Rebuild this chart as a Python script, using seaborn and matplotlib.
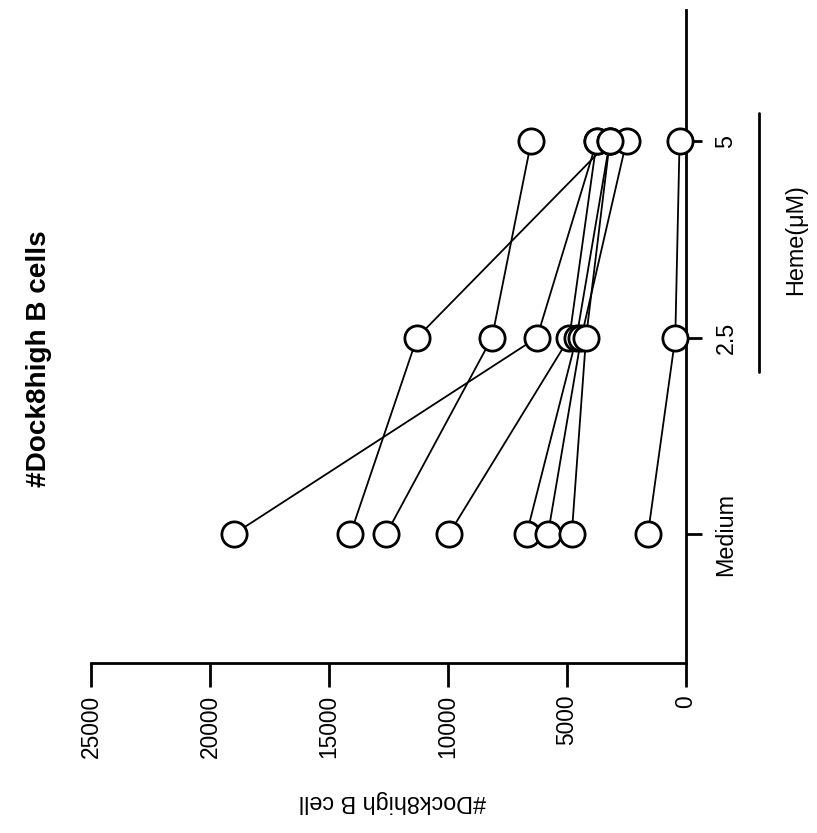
import matplotlib
matplotlib.use('Agg')
import matplotlib.pyplot as plt
import matplotlib.transforms as mtransforms
from matplotlib import font_manager
import numpy as np
import pandas as pd
import seaborn as sns

# ---- data ----
categories = ['Medium', '2.5', '5']
value_ticks = [0, 5000, 10000, 15000, 20000, 25000]
subj_a = [19000, 6260, 3750]
subj_b = [14100, 11300, 3200]
subj_c = [12600, 8150, 6500]
subj_d = [9960, 4900, 3750]
subj_e = [6700, 4600, 3200]
subj_f = [5800, 4400, 2500]
subj_g = [4800, 4200, 3200]
subj_h = [1600, 450, 270]
series = {'A': subj_a, 'B': subj_b, 'C': subj_c, 'D': subj_d,
          'E': subj_e, 'F': subj_f, 'G': subj_g, 'H': subj_h}
title = '#Dock8high B cells'
value_label = '#Dock8high B cell'
dose_label = 'Heme(\u03bcM)'

sns.set_theme(style='white')
names = {f.name for f in font_manager.fontManager.ttflist}
narrow = 'Liberation Sans Narrow' in names
fam = (['Liberation Sans Narrow', 'Liberation Sans', 'DejaVu Sans'] if narrow
       else ['Liberation Sans', 'DejaVu Sans'])
k = 1.0 if narrow else 0.82
plt.rcParams['font.family'] = fam
plt.rcParams['text.color'] = 'black'
plt.rcParams['axes.labelcolor'] = 'black'
plt.rcParams['xtick.color'] = 'black'
plt.rcParams['ytick.color'] = 'black'

rows = []
for name, vals in series.items():
    for i, (c, v) in enumerate(zip(categories, vals)):
        rows.append(dict(subject=name, dose=c, pos=i, count=v))
df = pd.DataFrame(rows)

W, H = 817, 833
fig = plt.figure(figsize=(W / 100, H / 100), dpi=100)
ax = fig.add_axes([91 / W, 1 - 663 / H, (686 - 91) / W, (663 - 10) / H])

sns.lineplot(data=df, x='count', y='pos', units='subject', estimator=None,
             orient='y', sort=False, color='black', linewidth=1.3, ax=ax,
             legend=False)
sns.scatterplot(data=df, x='count', y='pos', s=330, color='white',
                edgecolor='black', linewidth=2.0, ax=ax, zorder=3,
                legend=False, clip_on=False)

ax.set_xlim(25000, 0)
ax.set_ylim(-0.656, 2.667)
ax.set_xticks(value_ticks)
ax.set_xticklabels([str(v) for v in value_ticks], rotation=90, fontsize=20 * k,
                   color='black')
ax.yaxis.tick_right()
ax.set_yticks(range(len(categories)))
ax.set_yticklabels(categories, rotation=90, fontsize=20.5 * k, va='center',
                   color='black')
ax.set_xlabel('')
ax.set_ylabel('')

for side in ['left', 'top']:
    ax.spines[side].set_visible(False)
for side in ['bottom', 'right']:
    ax.spines[side].set_visible(True)
    ax.spines[side].set_color('black')
    ax.spines[side].set_linewidth(2)

ax.tick_params(axis='x', bottom=True, direction='out', length=17, width=2,
               pad=6, colors='black')
ax.tick_params(axis='y', right=True, left=False, direction='out', length=11.5,
               width=2, pad=9, colors='black')
ax.grid(False)

trans = mtransforms.blended_transform_factory(ax.transAxes, ax.transData)
ax.plot([1.123, 1.123], [0.827, 2.142], transform=trans, color='black',
        lw=2, clip_on=False)
ax.text(1.185, 1.5, dose_label, transform=trans, rotation=90, ha='center',
        va='center', fontsize=20.5 * k, color='black')

fig.text(392 / W, 1 - 801 / H, value_label, rotation=180, ha='center',
         va='center', fontsize=20.5 * k, color='black')
fig.text(39 / W, 1 - 359 / H, title, rotation=90, ha='center', va='center',
         fontsize=24.5 * k, fontweight='bold', color='black')

fig.savefig('out.png', dpi=100)
